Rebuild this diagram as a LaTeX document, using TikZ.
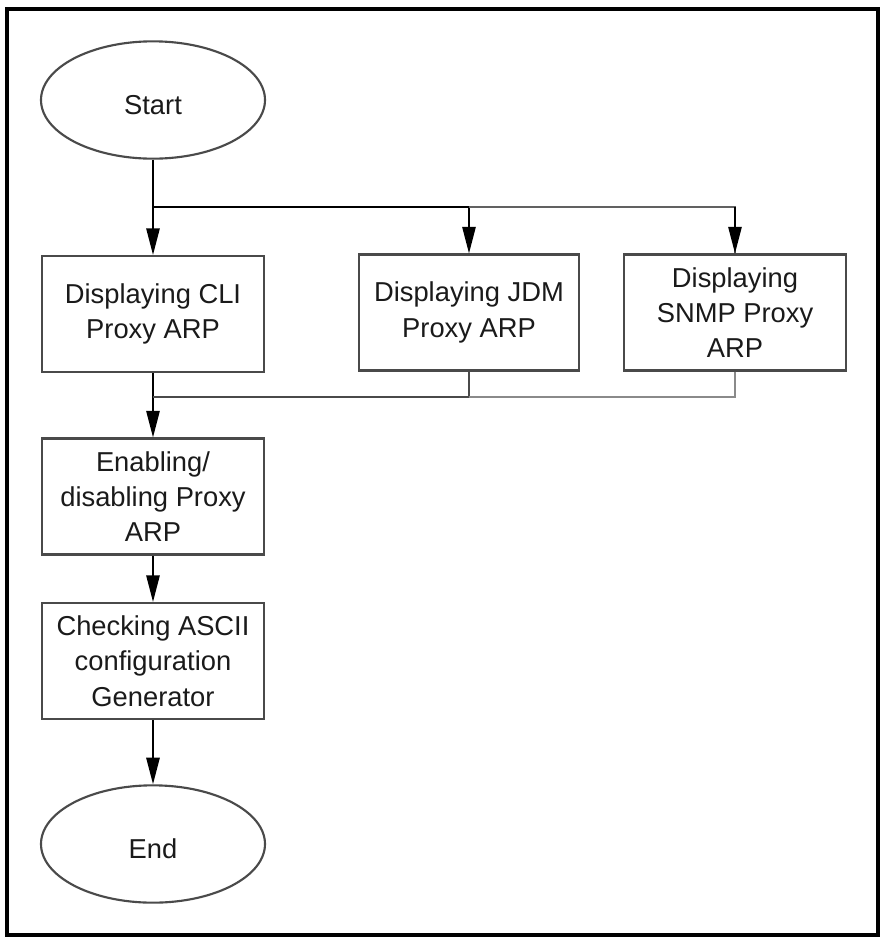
\documentclass[tikz,border=0pt]{standalone}
\usepackage{fontspec}
\setmainfont{Liberation Sans}
\usetikzlibrary{arrows.meta,shapes.geometric}
\definecolor{boxline}{HTML}{4A4A4A}
\definecolor{lightline}{HTML}{8A8A8A}
\definecolor{txt}{HTML}{1A1A1A}
\tikzset{
  px/.style={x=0.75pt,y=-0.75pt},
  stepbox/.style={draw=boxline,line width=1.6pt,rectangle,inner sep=0pt,
    minimum width=166.5pt,minimum height=87pt,align=center,text=txt,
    font=\fontsize{20.5pt}{26.5pt}\selectfont},
  term/.style={draw=boxline,line width=1.6pt,ellipse,inner sep=0pt,
    minimum width=168pt,minimum height=88pt,text=txt,
    text height=21pt,text depth=0pt,
    font=\fontsize{20.5pt}{26.5pt}\selectfont},
  conn/.style={draw=black,line width=1.4pt},
  arr/.style={conn,-{Triangle[length=20pt,width=10pt]}},
}
\begin{document}
\begin{tikzpicture}[px]
\useasboundingbox (0,0) rectangle (883,940);
\draw[line width=3pt] (7,9) rectangle (878,935);

\node[term] (start) at (153,100) {Start};
\node[stepbox] (cli) at (153,314) {Displaying CLI\\Proxy ARP};
\node[stepbox,minimum width=165pt] (jdm) at (469,312.5) {Displaying JDM\\Proxy ARP};
\node[stepbox] (snmp) at (735,312.5) {Displaying\\SNMP Proxy\\ARP};
\node[stepbox] (enab) at (153,496.5) {Enabling/\\disabling Proxy\\ARP};
\node[stepbox] (check) at (153,661) {Checking ASCII\\configuration\\Generator};
\node[term] (end) at (153,844) {End};

\coordinate (b1) at (153,207);
\coordinate (m1) at (153,397);

\draw[arr] (start.south) -- (cli.north);
\draw[conn] (b1) -- (b1 -| jdm.north);
\draw[arr] (b1 -| jdm.north) -- (jdm.north);
\draw[conn,draw=lightline!70!black] (b1 -| jdm.north) -| (snmp.north);
\draw[arr] (b1 -| snmp.north) -- (snmp.north);

\draw[conn] (cli.south) -- (m1);
\draw[arr] (m1) -- (enab.north);
\draw[conn,draw=boxline] (jdm.south) |- (m1);
\draw[conn,draw=lightline] (snmp.south) |- (m1 -| jdm.south);
\draw[arr] (enab.south) -- (check.north);
\draw[arr] (check.south) -- (end.north);
\end{tikzpicture}
\end{document}
